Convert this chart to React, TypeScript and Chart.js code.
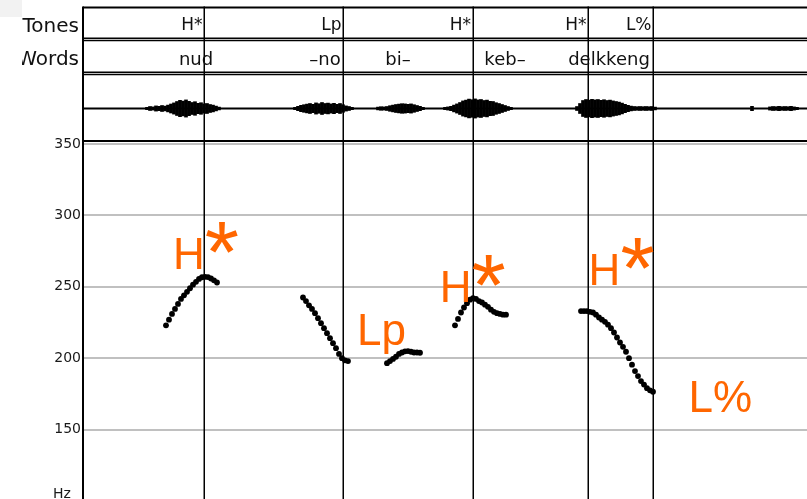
import { useEffect, useRef } from 'react';
import { Chart, registerables } from 'chart.js';

Chart.register(...registerables);

// ---- time axis (ms) ----
const TIME_MIN_MS = 0;
const TIME_MAX_MS = 1810;
const FRAME_STEP_MS = 7.5;

// ---- pitch axis ----
const HZ_MIN = 100;
const HZ_MAX = 350;
const HZ_STEP = 50;

// ---- tiers ----
const TIER_NAMES = ['Tones', 'Words'];
const BOUNDARIES_MS = [302.5, 650, 974, 1262.5, 1425];
const TONE_LABELS = ['H*', 'Lp', 'H*', 'H*', 'L%'];
const TONE_TIMES_MS = [302.5, 650, 974, 1262.5, 1425];
const WORD_LABELS = ['nud', '–no', 'bi–', 'keb–', 'delkkeng'];
const WORD_TIMES_MS = [282.5, 605, 787.5, 1055, 1315];

// ---- F0 contours (Hz), one value per frame ----
const CONTOUR_START_MS = [207.5, 550, 760, 930, 1245];
const CONTOUR_1_HZ = [223, 227, 231, 234.5, 238, 241.5, 244, 246.5, 249, 251.5, 253.5, 255.5, 256.7, 257, 256.8, 255.8, 254.5, 253];
const CONTOUR_2_HZ = [242.5, 240, 237, 234.5, 231.5, 228, 224.5, 221, 217.5, 214, 210.5, 207, 203, 200, 198.5, 198];
const CONTOUR_3_HZ = [196.5, 198, 199.5, 201, 203, 204, 204.8, 205, 204.5, 204, 204, 203.8];
const CONTOUR_4_HZ = [223, 227.5, 232, 235.5, 238.5, 241, 242, 241.5, 240, 239, 237.5, 236, 234, 232.5, 231.5, 231, 230.5, 230.5];
const CONTOUR_5_HZ = [233, 233, 233, 232.5, 232, 230.5, 228.5, 227, 225.5, 223.5, 221, 218, 214.5, 211, 208, 204.5, 200, 195.5, 191, 187.5, 184, 181.5, 179, 177.5, 176.5];

// ---- waveform envelope (normalised amplitude), one value per frame ----
const WAVE_START_MS = [160, 530, 737.5, 905, 1235, 1672.5, 1717.5];
const WAVE_1 = [0.12, 0.2, 0.16, 0.26, 0.22, 0.3, 0.24, 0.34, 0.45, 0.56, 0.7, 0.82, 0.74, 0.86, 0.72, 0.6, 0.68, 0.52, 0.58, 0.46, 0.5, 0.4, 0.34, 0.24, 0.14];
const WAVE_2 = [0.12, 0.22, 0.32, 0.38, 0.44, 0.5, 0.42, 0.56, 0.48, 0.6, 0.5, 0.54, 0.46, 0.52, 0.42, 0.5, 0.38, 0.26, 0.2, 0.12];
const WAVE_3 = [0.14, 0.18, 0.16, 0.2, 0.28, 0.34, 0.4, 0.44, 0.48, 0.46, 0.42, 0.46, 0.38, 0.3, 0.22, 0.12];
const WAVE_4 = [0.12, 0.16, 0.22, 0.34, 0.46, 0.6, 0.76, 0.84, 0.94, 0.88, 0.96, 0.86, 0.9, 0.8, 0.84, 0.72, 0.7, 0.58, 0.5, 0.4, 0.3, 0.2, 0.12];
const WAVE_5 = [0.2, 0.5, 0.8, 0.9, 0.84, 0.92, 0.86, 0.9, 0.82, 0.88, 0.8, 0.84, 0.76, 0.7, 0.64, 0.54, 0.42, 0.32, 0.24, 0.2, 0.18, 0.2, 0.18, 0.2, 0.18, 0.2, 0.14];
const WAVE_6 = [0.22];
const WAVE_7 = [0.16, 0.2, 0.18, 0.22, 0.18, 0.2, 0.18, 0.22, 0.16, 0.12];

// ---- orange annotations (text origin in ms / Hz) ----
const ANNOT_LABELS = ['H', 'Lp', 'H', 'H', 'L%'];
const ANNOT_STAR = [true, false, true, true, false];
const ANNOT_T_MS = [225, 685, 892, 1264, 1514];
const ANNOT_HZ = [262.8, 209.2, 239.6, 251.3, 162.5];

const ORANGE = '#ff6600';
const TEXT_FONT = '"DejaVu Sans", sans-serif';
const ANNOT_FONT = '"Liberation Sans", Arial, sans-serif';

const tierPlugin = {
  id: 'tiers',
  beforeDatasetsDraw(chart: any) {
    const { ctx, chartArea, scales } = chart;
    const xs = scales.x;
    const L = chartArea.left;
    const R = chart.width;
    ctx.save();
    ctx.strokeStyle = '#000';
    const hline = (y: number, w: number) => {
      ctx.lineWidth = w;
      ctx.beginPath();
      ctx.moveTo(L, y);
      ctx.lineTo(R, y);
      ctx.stroke();
    };
    hline(7.5, 2);
    hline(38.3, 1.4);
    hline(40.5, 1.4);
    hline(72.3, 1.4);
    hline(74.5, 1.4);
    hline(141, 2);
    ctx.lineWidth = 2;
    ctx.beginPath();
    ctx.moveTo(L, 6.5);
    ctx.lineTo(L, chartArea.top);
    ctx.stroke();
    ctx.lineWidth = 1.5;
    BOUNDARIES_MS.forEach((b) => {
      const px = Math.round(xs.getPixelForValue(b)) + 0.25;
      ctx.beginPath();
      ctx.moveTo(px, 6.5);
      ctx.lineTo(px, chartArea.bottom);
      ctx.stroke();
    });
    // tier names (clipped by the left margin panel)
    ctx.save();
    ctx.beginPath();
    ctx.rect(22, 0, L - 22, chartArea.top);
    ctx.clip();
    ctx.fillStyle = '#111';
    ctx.font = `20px ${TEXT_FONT}`;
    ctx.textAlign = 'right';
    ctx.textBaseline = 'alphabetic';
    ctx.fillText(TIER_NAMES[0], 79, 31.5);
    ctx.fillText(TIER_NAMES[1], 79, 65);
    ctx.restore();
    // tone labels
    ctx.fillStyle = '#111';
    ctx.textAlign = 'right';
    ctx.textBaseline = 'alphabetic';
    ctx.font = `17px ${TEXT_FONT}`;
    TONE_LABELS.forEach((t, i) => {
      ctx.fillText(t, xs.getPixelForValue(TONE_TIMES_MS[i]) - 1.5, 30);
    });
    // word labels
    ctx.font = `18px ${TEXT_FONT}`;
    ctx.textAlign = 'center';
    WORD_LABELS.forEach((w, i) => {
      ctx.fillText(w, xs.getPixelForValue(WORD_TIMES_MS[i]), 65);
    });
    // Hz unit label
    ctx.font = `14px ${TEXT_FONT}`;
    ctx.textAlign = 'left';
    ctx.fillStyle = '#1a1a1a';
    ctx.fillText('Hz', 53, 498);
    ctx.restore();
  },
  afterDatasetsDraw(chart: any) {
    const { ctx, scales } = chart;
    const xs = scales.x;
    const ys = scales.y;
    ctx.save();
    ctx.fillStyle = ORANGE;
    ctx.textAlign = 'left';
    ctx.textBaseline = 'alphabetic';
    ANNOT_LABELS.forEach((lab, i) => {
      const x = xs.getPixelForValue(ANNOT_T_MS[i]);
      const y = ys.getPixelForValue(ANNOT_HZ[i]);
      ctx.font = `44px ${ANNOT_FONT}`;
      ctx.fillText(lab, x, y);
      if (ANNOT_STAR[i]) {
        const w = ctx.measureText(lab).width;
        ctx.font = `88px ${ANNOT_FONT}`;
        ctx.fillText('*', x + w, y + 13);
      }
    });
    ctx.restore();
  },
};

export default function App() {
  const ref = useRef<HTMLCanvasElement>(null);
  useEffect(() => {
    const canvas = ref.current;
    if (!canvas) return;
    const contours = [CONTOUR_1_HZ, CONTOUR_2_HZ, CONTOUR_3_HZ, CONTOUR_4_HZ, CONTOUR_5_HZ];
    const waves = [WAVE_1, WAVE_2, WAVE_3, WAVE_4, WAVE_5, WAVE_6, WAVE_7];
    const pitchSets = contours.map((hz, i) => ({
      type: 'scatter' as const,
      label: `F0 ${i + 1}`,
      yAxisID: 'y',
      data: hz.map((v, j) => ({ x: CONTOUR_START_MS[i] + j * FRAME_STEP_MS, y: v })),
      pointRadius: 2.9,
      pointHoverRadius: 2.9,
      pointBackgroundColor: '#000',
      pointBorderWidth: 0,
      showLine: false,
      order: 1,
    }));
    const waveData: { x: number; y: [number, number] }[] = [];
    waves.forEach((amps, i) => {
      amps.forEach((a, j) => {
        waveData.push({ x: WAVE_START_MS[i] + j * FRAME_STEP_MS, y: [-a, a] });
      });
    });
    const chart = new Chart(canvas, {
      type: 'scatter',
      data: {
        datasets: [
          {
            type: 'line',
            label: 'wave-zero',
            yAxisID: 'yw',
            data: [
              { x: TIME_MIN_MS, y: 0 },
              { x: TIME_MAX_MS, y: 0 },
            ],
            borderColor: '#000',
            borderWidth: 2,
            pointRadius: 0,
            clip: false,
            order: 3,
          } as any,
          {
            type: 'bar',
            label: 'wave',
            yAxisID: 'yw',
            data: waveData,
            backgroundColor: '#000',
            borderWidth: 0,
            barThickness: 3,
            grouped: false,
            clip: false,
            order: 2,
          } as any,
          ...(pitchSets as any[]),
        ],
      },
      options: {
        animation: false,
        responsive: false,
        maintainAspectRatio: false,
        events: [],
        layout: { autoPadding: false, padding: { top: 144, right: 0, bottom: 0, left: 0 } },
        plugins: { legend: { display: false }, tooltip: { enabled: false } },
        scales: {
          x: {
            type: 'linear',
            min: TIME_MIN_MS,
            max: TIME_MAX_MS,
            display: false,
            offset: false,
            grid: { offset: false },
          },
          y: {
            type: 'linear',
            min: HZ_MIN,
            max: HZ_MAX,
            ticks: {
              stepSize: HZ_STEP,
              padding: 2,
              color: '#1a1a1a',
              font: { family: 'DejaVu Sans', size: 14 },
              callback: (v: any) => (Number(v) === HZ_MIN ? '' : String(v)),
            },
            grid: { color: '#c0c0c0', lineWidth: 2, drawTicks: false },
            border: { display: true, color: '#000', width: 2 },
            afterFit: (s: any) => {
              s.width = 83;
              s.paddingTop = 0;
              s.paddingBottom = 0;
            },
          },
          yw: { type: 'linear', display: false, min: -39.25, max: -3.55 },
        },
      } as any,
      plugins: [tierPlugin],
    });
    return () => chart.destroy();
  }, []);
  return (
    <div style={{ position: 'fixed', left: 0, top: 0, width: 807, height: 499, overflow: 'hidden', background: '#fff' }}>
      <div style={{ position: 'absolute', left: 0, top: 0, width: 22, height: 17, background: '#f2f2f2' }} />
      <canvas ref={ref} width={807} height={501} style={{ display: 'block' }} />
    </div>
  );
}
